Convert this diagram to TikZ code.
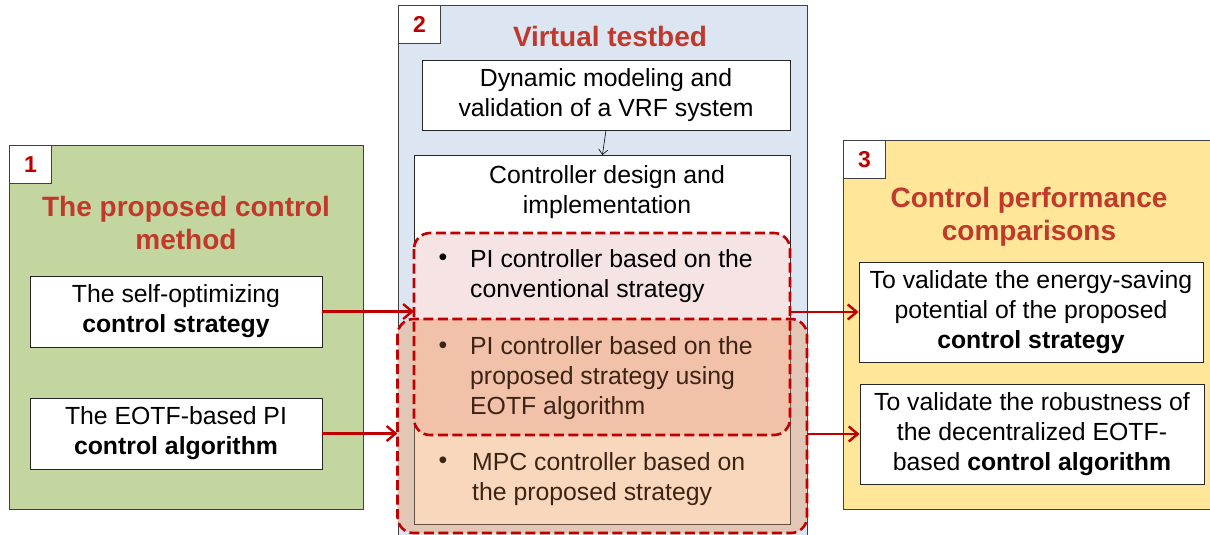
\documentclass[tikz,border=0pt]{standalone}
\usepackage{fontspec}
\setmainfont{Liberation Sans}
\usetikzlibrary{arrows.meta}
\definecolor{panelgreen}{HTML}{C4D6A0}
\definecolor{panelblue}{HTML}{DCE6F2}
\definecolor{panelyellow}{HTML}{FFE699}
\definecolor{titlered}{HTML}{C0392B}
\definecolor{numred}{HTML}{C00000}
\definecolor{arrred}{HTML}{C00000}
\definecolor{pinkfill}{HTML}{F6E4E4}
\definecolor{tanfill}{HTML}{E2C7B6}
\definecolor{peachfill}{HTML}{F9D7BD}
\definecolor{salmonfill}{HTML}{F2C1A9}
\definecolor{browntext}{HTML}{3C2414}
\definecolor{edgegray}{HTML}{404040}
\begin{document}
\begin{tikzpicture}[x=1pt,y=-1pt,
  panel/.style={draw=edgegray, line width=0.8pt, anchor=north west, inner sep=0pt},
  numbox/.style={draw=edgegray, fill=white, line width=0.8pt, anchor=north west,
     minimum width=42pt, minimum height=38pt, inner sep=0pt,
     font=\bfseries\fontsize{23}{23}\selectfont, text=numred},
  wbox/.style={draw=black!85, fill=white, line width=0.8pt, inner sep=0pt,
     font=\fontsize{24.8}{30}\selectfont, align=center},
  body/.style={font=\fontsize{24.8}{30}\selectfont, inner sep=0pt},
  ttl/.style={font=\bfseries\fontsize{28}{33}\selectfont, text=titlered, align=center, inner sep=0pt},
  redarrow/.style={draw=arrred, line width=2.4pt, -{Straight Barb[length=9pt,width=15pt,line width=2.4pt]}},
  reddash/.style={draw=arrred, line width=2.6pt, dash pattern=on 10pt off 4.5pt, rounded corners=16pt}
]
\useasboundingbox (0,0) rectangle (1210,535);
\clip (0,0) rectangle (1210,535);

% panels
\node[panel, fill=panelgreen, minimum width=354pt, minimum height=364pt] (p1) at (9,145) {};
\node[panel, fill=panelblue, minimum width=409pt, minimum height=545pt] (p2) at (398,5) {};
\node[panel, fill=panelyellow, minimum width=370pt, minimum height=369pt] (p3) at (843,140) {};

\node[numbox] (n1) at (9,145) {1};
\node[numbox] (n2) at (398,5) {2};
\node[numbox] (n3) at (843,140) {3};

% titles
\node[ttl] (t1) at (186,223) {The proposed control\\method};
\node[ttl] (t2) at (610,36) {Virtual testbed};
\node[ttl] (t3) at (1029,217) {Control performance\\comparisons};

% panel 1 boxes
\node[wbox, minimum width=292pt, minimum height=71pt] (a) at (176,311.5) {The self-optimizing\\\textbf{control strategy}};
\node[wbox, minimum width=292pt, minimum height=71pt] (b) at (176,433.5) {The EOTF-based PI\\\textbf{control algorithm}};

% panel 3 boxes
\node[wbox, minimum width=344pt, minimum height=100pt] (c) at (1031,312) {To validate the energy-saving\\potential of the proposed\\\textbf{control strategy}};
\node[wbox, minimum width=344pt, minimum height=100pt] (d) at (1032,434) {To validate the robustness of\\the decentralized EOTF-\\based \textbf{control algorithm}};

% panel 2
\node[wbox, minimum width=368pt, minimum height=70pt] (dyn) at (606,95) {Dynamic modeling and\\validation of a VRF system};
\node[wbox, anchor=north west, minimum width=376pt, minimum height=369pt] (ctrl) at (414,155) {};
\draw[line width=0.6pt, -{Straight Barb[length=5pt,width=9pt,line width=0.6pt]}] (dyn.south) -- (ctrl.north);
\node[body, align=center] (ctl) at (607,192) {Controller design and\\implementation};

% region shapes (named nodes for connectors)
\node[inner sep=0pt, anchor=north west, minimum width=376pt, minimum height=202pt] (pk) at (414,233) {};
\node[inner sep=0pt, anchor=north west, minimum width=409.5pt, minimum height=214pt] (outer) at (397.5,319) {};

% fills
\fill[pinkfill, rounded corners=16pt] (414,233) rectangle (790,435);
\fill[tanfill, rounded corners=16pt] (397.5,319) rectangle (807,533);
\filldraw[fill=peachfill, draw=browntext!80, line width=0.8pt] (414,319) rectangle (790,524);
\begin{scope}
  \clip (414,319) rectangle (790,524);
  \fill[salmonfill, rounded corners=16pt] (414,233) rectangle (790,435);
\end{scope}

% bullet texts
\node[body] (b1) at (443,260) {•};
\node[body, anchor=west, align=left] (l1) at (470,276) {PI controller based on the\\conventional strategy};
\node[body, text=browntext] (b2) at (443,348) {•};
\node[body, anchor=west, align=left, text=browntext] (l2) at (470,378.5) {PI controller based on the\\proposed strategy using\\EOTF algorithm};
\node[body, text=browntext] (b3) at (443,463) {•};
\node[body, anchor=west, align=left, text=browntext] (l3) at (472,479) {MPC controller based on\\the proposed strategy};

% dashed outlines
\draw[reddash] (414,233) rectangle (790,435);
\draw[reddash] (397.5,319) rectangle (807,533);

% arrows
\draw[redarrow] (a.east) -- (a.east -| pk.west);
\draw[redarrow] (b.east) -- (b.east -| outer.west);
\draw[redarrow] (pk.east |- c.west) -- (c.west);
\draw[redarrow] (outer.east |- d.west) -- (d.west);
\end{tikzpicture}
\end{document}
